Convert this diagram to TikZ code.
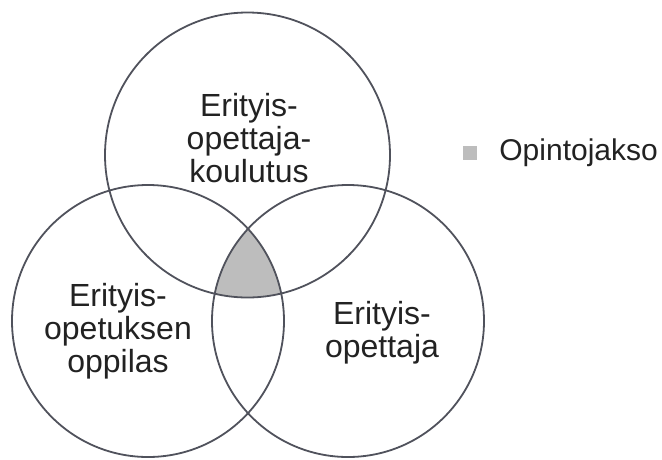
\documentclass[tikz,border=0pt]{standalone}
\usepackage{fontspec}
\setmainfont{Liberation Sans}
\usepackage{xcolor}
\usepackage{tikz}
\usetikzlibrary{positioning}
\definecolor{ringline}{HTML}{50525C}
\definecolor{shadegray}{HTML}{BDBDBD}
\definecolor{labeltext}{HTML}{222222}
\newcommand{\vennfont}{\fontsize{32}{33}\selectfont}
\newcommand{\legfont}{\fontsize{30}{34}\selectfont}

\begin{document}
\begin{tikzpicture}[x=1pt,y=-1pt,
    ring/.style={draw=ringline, line width=1.8pt},
    setlabel/.style={font=\vennfont, align=center, text=labeltext, inner sep=0pt}]
  \useasboundingbox (0,0) rectangle (662,459);
  % the common part of all three sets
  \begin{scope}
    \clip (148,321) circle (136);
    \clip (348,321) circle (136);
    \fill[shadegray] (247.5,155) circle (142.5);
  \end{scope}
  \draw[ring] (247.5,155) circle (142.5);
  \draw[ring] (148,321) circle (136);
  \draw[ring] (348,321) circle (136);
  \node[setlabel] (koulutus) at (249,138) {Erityis-\\opettaja-\\koulutus};
  \node[setlabel] (oppilas) at (118,331) {Erityis-\\opetuksen\\oppilas};
  \node[setlabel] (opettaja) at (382,333) {Erityis-\\opettaja};
  \node[fill=shadegray, minimum size=14pt, inner sep=0pt] (legbox) at (470,153) {};
  \node[font=\legfont, text=labeltext, inner sep=0pt, right=22pt of legbox] (legtext) {Opintojakso};
\end{tikzpicture}
\end{document}
